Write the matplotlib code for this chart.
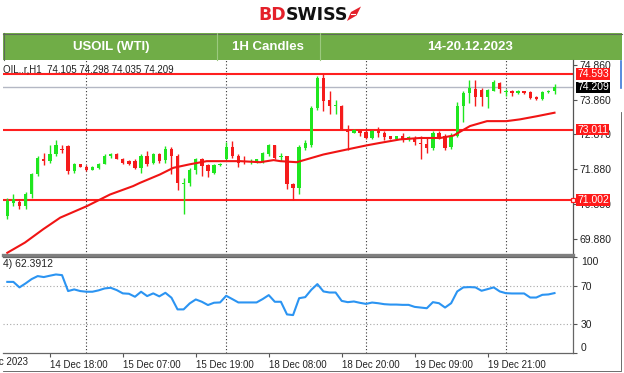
import matplotlib
matplotlib.use('Agg')
import matplotlib.pyplot as plt
import matplotlib.transforms as mtransforms
from matplotlib.patches import Rectangle, Polygon
import numpy as np

plt.rcParams['font.family'] = ['Liberation Sans', 'DejaVu Sans']

W, H = 624, 373

# ---------------- data ----------------
opens = [70.55, 70.93, 70.95, 70.83, 71.16, 71.73, 72.17, 72.11, 72.30, 72.46,
         72.54, 71.83, 72.02, 71.95, 71.87, 71.92, 72.04, 72.26, 72.30, 72.18,
         72.11, 72.12, 71.92, 72.27, 72.06, 72.30, 72.15, 72.46, 72.27, 71.45,
         71.48, 71.87, 72.16, 71.99, 71.78, 71.99, 72.16, 72.52, 72.25, 72.11,
         72.10, 72.09, 72.11, 72.30, 72.56, 72.22, 72.25, 71.45, 71.35, 72.49,
         72.56, 73.63, 74.48, 73.85, 73.67, 73.69, 73.03, 72.92, 72.99, 72.93,
         72.77, 72.98, 72.92, 72.82, 72.75, 72.82, 72.77, 72.77, 72.61, 72.61,
         72.49, 72.92, 72.82, 72.52, 72.84, 73.67, 74.05, 74.17, 74.15, 73.94,
         74.12, 74.34, 74.09, 74.12, 74.05, 74.10, 74.07, 73.94, 73.88, 74.07,
         74.105]
highs = [71.07, 71.16, 71.02, 71.23, 71.78, 72.27, 72.35, 72.56, 72.70, 72.56,
         72.56, 72.05, 72.04, 71.99, 71.97, 72.06, 72.30, 72.35, 72.35, 72.20,
         72.14, 72.16, 72.30, 72.40, 72.33, 72.35, 72.54, 72.52, 72.30, 71.64,
         71.92, 72.21, 72.21, 72.04, 72.04, 72.06, 72.65, 72.68, 72.30, 72.25,
         72.16, 72.18, 72.37, 72.61, 72.58, 72.33, 72.27, 71.50, 72.58, 72.71,
         73.67, 74.53, 74.60, 74.10, 73.86, 73.70, 73.15, 73.03, 73.01, 72.99,
         73.01, 73.08, 72.96, 72.84, 72.84, 72.90, 72.84, 72.84, 72.82, 72.77,
         72.96, 72.96, 72.87, 72.90, 73.79, 74.10, 74.43, 74.43, 74.20, 74.17,
         74.41, 74.36, 74.17, 74.13, 74.14, 74.12, 74.10, 73.96, 74.10, 74.14,
         74.298]
lows = [70.45, 70.83, 70.76, 70.76, 71.07, 71.68, 71.99, 72.06, 72.25, 72.35,
        71.73, 71.78, 71.93, 71.83, 71.85, 71.90, 72.02, 72.21, 72.16, 72.04,
        71.99, 71.90, 71.78, 71.97, 72.02, 72.06, 72.06, 71.73, 71.30, 70.60,
        71.40, 71.73, 71.68, 71.67, 71.73, 71.97, 72.11, 72.21, 71.95, 72.04,
        72.04, 72.07, 72.06, 72.25, 72.16, 72.11, 71.32, 71.00, 71.16, 72.42,
        72.52, 73.58, 73.53, 73.44, 73.44, 72.99, 72.44, 72.90, 72.84, 72.75,
        72.73, 72.80, 72.71, 72.73, 72.73, 72.65, 72.68, 72.58, 72.16, 72.35,
        72.44, 72.73, 72.44, 72.46, 72.80, 73.22, 73.77, 73.67, 73.67, 73.63,
        74.10, 74.04, 73.98, 73.98, 74.03, 74.02, 73.88, 73.86, 73.86, 74.05,
        74.035]
closes = [70.97, 71.02, 70.83, 71.16, 71.73, 72.21, 72.12, 72.30, 72.56, 72.42,
          71.83, 72.02, 71.95, 71.87, 71.95, 72.04, 72.25, 72.30, 72.18, 72.06,
          72.04, 71.92, 72.25, 72.02, 72.30, 72.11, 72.46, 72.27, 71.48, 71.50,
          71.87, 72.16, 71.97, 71.83, 71.99, 72.04, 72.52, 72.25, 72.06, 72.08,
          72.12, 72.16, 72.33, 72.56, 72.21, 72.24, 71.45, 71.35, 72.52, 72.63,
          73.63, 74.48, 73.82, 73.67, 73.70, 73.01, 72.94, 73.01, 72.90, 72.77,
          72.96, 72.92, 72.80, 72.75, 72.82, 72.71, 72.79, 72.65, 72.60, 72.49,
          72.92, 72.80, 72.49, 72.84, 73.67, 74.05, 74.20, 73.94, 73.94, 74.15,
          74.36, 74.17, 74.11, 74.05, 74.12, 74.05, 73.91, 73.88, 74.07, 74.12,
          74.209]

ma_bars = [0, 2.9, 5.9, 8.7, 13.1, 16.9, 20.7, 21.8, 25.1, 27.3, 30.0, 32.8, 38.3,
           41.6, 43.8, 44.9, 47.6, 49.2, 52.0, 55.8, 59.1, 61.3, 64.6, 67.9, 71.2,
           73.4, 76.1, 78.9, 82.1, 84.3, 87.1, 90.0]
ma_vals = [69.50, 69.79, 70.17, 70.50, 70.83, 71.16, 71.40, 71.49, 71.73, 71.92,
           72.02, 72.11, 72.11, 72.08, 72.14, 72.11, 72.08, 72.16, 72.30, 72.44,
           72.56, 72.63, 72.73, 72.77, 72.77, 72.84, 73.11, 73.25, 73.25, 73.30,
           73.39, 73.49]

rsi = [74, 74, 68.3, 72.4, 76.9, 80, 79, 80.4, 81.7, 81,
       64.5, 66.2, 64.5, 63.8, 63.8, 65.2, 67.2, 67.9, 65.5, 62.1,
       61.7, 58.6, 63.8, 59.3, 62.1, 59.0, 62.7, 57.6, 45.5, 45.5,
       51.7, 55.8, 53.4, 50.0, 52.4, 52.7, 59.6, 56.2, 52.7, 52.7,
       52.7, 52.7, 56.2, 60.3, 53.4, 53.4, 40.3, 39.6, 57.1, 58.2,
       65.8, 71.7, 64.1, 63.0, 63.0, 54.3, 53.0, 53.7, 52.3, 51.2,
       52.6, 51.9, 50.9, 50.5, 50.5, 50.2, 50.2, 48.1, 47.4, 46.7,
       53.0, 51.9, 47.4, 51.9, 64.1, 68.3, 68.6, 68.3, 64.8, 66.5,
       68.3, 64.1, 62.3, 62.0, 62.0, 62.0, 57.8, 57.8, 60.6, 61.0,
       62.39]

levels = [74.593, 73.011, 71.002]
last_price = 74.209
price_ticks = [74.860, 73.860, 72.870, 71.880, 70.880, 69.880]
price_tick_labels = ['74.860', '73.860', '72.870', '71.880', '70.880', '69.880']
rsi_ticks = [100, 70, 30, 0]
time_bars = [7, 19, 31, 43, 55, 67, 79]
time_labels = ['14 Dec 18:00', '15 Dec 07:00', '15 Dec 19:00', '18 Dec 08:00',
               '18 Dec 20:00', '19 Dec 09:00', '19 Dec 21:00']
grid_bars = [13, 36, 59, 82]
header_texts = ['USOIL (WTI)', '1H Candles', '14-20.12.2023']
info_text = 'OIL..r,H1  74.105 74.298 74.035 74.209'
rsi_text = '4) 62.3912'

# ---------------- styling ----------------
GREEN = '#1fe61f'
RED = '#f51b1b'
BLUE = '#2b94f2'

fig = plt.figure(figsize=(W / 100, H / 100), dpi=100)


def px_axes(x0, y0, x1, y1):
    return fig.add_axes([x0 / W, 1 - y1 / H, (x1 - x0) / W, (y1 - y0) / H])


# decoration layer in pixel coordinates
deco = px_axes(0, 0, W, H)
deco.set_xlim(0, W)
deco.set_ylim(H, 0)
deco.axis('off')

# logo
t_bd = deco.text(258, 15.5, 'BD', color='#e4202a', fontsize=12.5, fontweight='bold',
                 family='DejaVu Sans', ha='left', va='center')
deco.annotate('SWISS', xy=(1.0, 0.5), xycoords=t_bd, ha='left', va='center',
              color='#111111', fontsize=12.5, fontweight='bold', family='DejaVu Sans')
deco.add_patch(Polygon([(347, 21), (351, 12), (361, 6.5), (356.5, 15.5)], closed=True,
                       fc='#e4202a', ec='none'))
deco.plot([350.5, 354.5], [14, 14], color='white', lw=0.8)

# header bar
deco.add_patch(Rectangle((3, 33), 619, 27, fc='#70ad47', ec='none'))
deco.plot([3, 622], [33.5, 33.5], color='#5f6a5a', lw=0.8)
deco.plot([3.5, 3.5], [33, 60], color='#5f6a5a', lw=0.8)
for xd in (217, 320):
    deco.plot([xd, xd], [33, 60], color='#9cc97f', lw=0.8)
for txt, xc in zip(header_texts, (111, 268, 470)):
    deco.text(xc, 47, txt, color='white', fontsize=9.5, fontweight='bold',
              ha='center', va='center')

# frame edges of the screenshot
deco.plot([620.5, 620.5], [61, 88], color='#3b78d8', lw=1.2)
deco.plot([620.5, 620.5], [112, 370], color='#555555', lw=0.6)
deco.plot([3, 621], [370.5, 370.5], color='#555555', lw=0.6)

# ---------------- main price panel ----------------
X0, X1 = 3, 572.5
BAR0, BARW = 7.3, 6.08
xlo = (X0 - BAR0) / BARW
xhi = (X1 - BAR0) / BARW

ax = px_axes(X0, 60, X1, 254.5)
ax.set_facecolor('none')
ax.set_xlim(xlo, xhi)
PPU = 35.1
ax.set_ylim(74.593 - (254.5 - 74) / PPU, 74.593 + (74 - 60) / PPU)

n = len(opens)
idx = np.arange(n)
for i in range(n):
    o, h, l, c = opens[i], highs[i], lows[i], closes[i]
    col = GREEN if c >= o else RED
    ax.vlines(i, l, h, color=col, lw=1.0, zorder=3)
    bot = min(o, c)
    ht = max(abs(c - o), 0.025)
    ax.add_patch(Rectangle((i - 0.27, bot), 0.54, ht, fc=col, ec='none', zorder=4))

for lv in levels:
    ax.axhline(lv, color='#ff1f1f', lw=1.5, zorder=2)
ax.axhline(last_price, color='#b4b8c4', lw=1.0, zorder=1.5)
ax.plot(ma_bars, ma_vals, color='#f01414', lw=1.5, zorder=5)
for g in grid_bars:
    ax.axvline(g, color='#333333', lw=0.8, ls=(0, (1, 2)), zorder=1)

ax.set_xticks([])
ax.yaxis.tick_right()
ax.set_yticks(price_ticks)
ax.set_yticklabels(price_tick_labels)
ax.tick_params(axis='y', length=3, width=0.8, color='#555555', pad=2,
               labelsize=7.5, labelcolor='#222222')
for s in ('left', 'top'):
    ax.spines[s].set_visible(False)
ax.spines['right'].set_color('#555555')
ax.spines['right'].set_linewidth(0.9)
ax.spines['bottom'].set_color('#808080')
ax.spines['bottom'].set_linewidth(2.4)

ax.text(0.0, 1 - 4 / 194.5, info_text, transform=ax.transAxes, ha='left', va='top',
        fontsize=7, color='#222222')

bt = mtransforms.blended_transform_factory(ax.transAxes, ax.transData)
xl = 1 + 4.5 / (X1 - X0)
for lv, fc in ((levels[0], '#ff1a1a'), (last_price, 'black'),
               (levels[1], '#ff1a1a'), (levels[2], '#ff1a1a')):
    ax.text(xl, lv, f'{lv:.3f}', transform=bt, ha='left', va='center',
            fontsize=7.5, color='white', zorder=10,
            bbox=dict(boxstyle='square,pad=0.08', fc=fc, ec='none'))
ax.plot([xhi], [levels[2]], marker='s', ms=3.5, mfc='white', mec='#ff1a1a',
        mew=0.9, clip_on=False, zorder=11)

# ---------------- RSI panel ----------------
ar = px_axes(X0, 256.8, X1, 353.3)
ar.set_facecolor('none')
ar.set_xlim(xlo, xhi)
ar.set_ylim(0, 100)
ar.plot(idx, rsi, color=BLUE, lw=1.5, zorder=3)
for lvl in (70, 30):
    ar.axhline(lvl, color='#a8a8a8', lw=0.8, ls=(0, (1, 2)), zorder=1)
for g in grid_bars:
    ar.axvline(g, color='#333333', lw=0.8, ls=(0, (1, 2)), zorder=1)

ar.yaxis.tick_right()
ar.set_yticks(rsi_ticks)
ar.set_yticklabels([str(t) for t in rsi_ticks])
ar.tick_params(axis='y', length=3, width=0.8, color='#555555', pad=3,
               labelsize=7.5, labelcolor='#222222')
yl = ar.get_yticklabels()
yl[0].set_va('top')
yl[-1].set_va('bottom')

ar.set_xticks(time_bars)
ar.set_xticklabels(time_labels)
ar.tick_params(axis='x', length=3, width=0.8, color='#555555', pad=2,
               labelsize=7, labelcolor='#222222')
for lab in ar.get_xticklabels():
    lab.set_ha('left')
ar.spines['left'].set_visible(False)
for s in ('top', 'right', 'bottom'):
    ar.spines[s].set_color('#666666')
    ar.spines[s].set_linewidth(0.9)

ar.text(0.0, 1 - 2 / 96.5, rsi_text, transform=ar.transAxes, ha='left', va='top',
        fontsize=7.5, color='#222222')
# first date label, cut off at the left edge as in the screenshot
tb = mtransforms.blended_transform_factory(ar.transData, ar.transAxes)
ar.text((28 - BAR0) / BARW, -0.035, '14 Dec 2023', transform=tb, ha='right',
        va='top', fontsize=7, color='#222222', clip_on=False)

fig.savefig('out.png', dpi=100, facecolor='white')
